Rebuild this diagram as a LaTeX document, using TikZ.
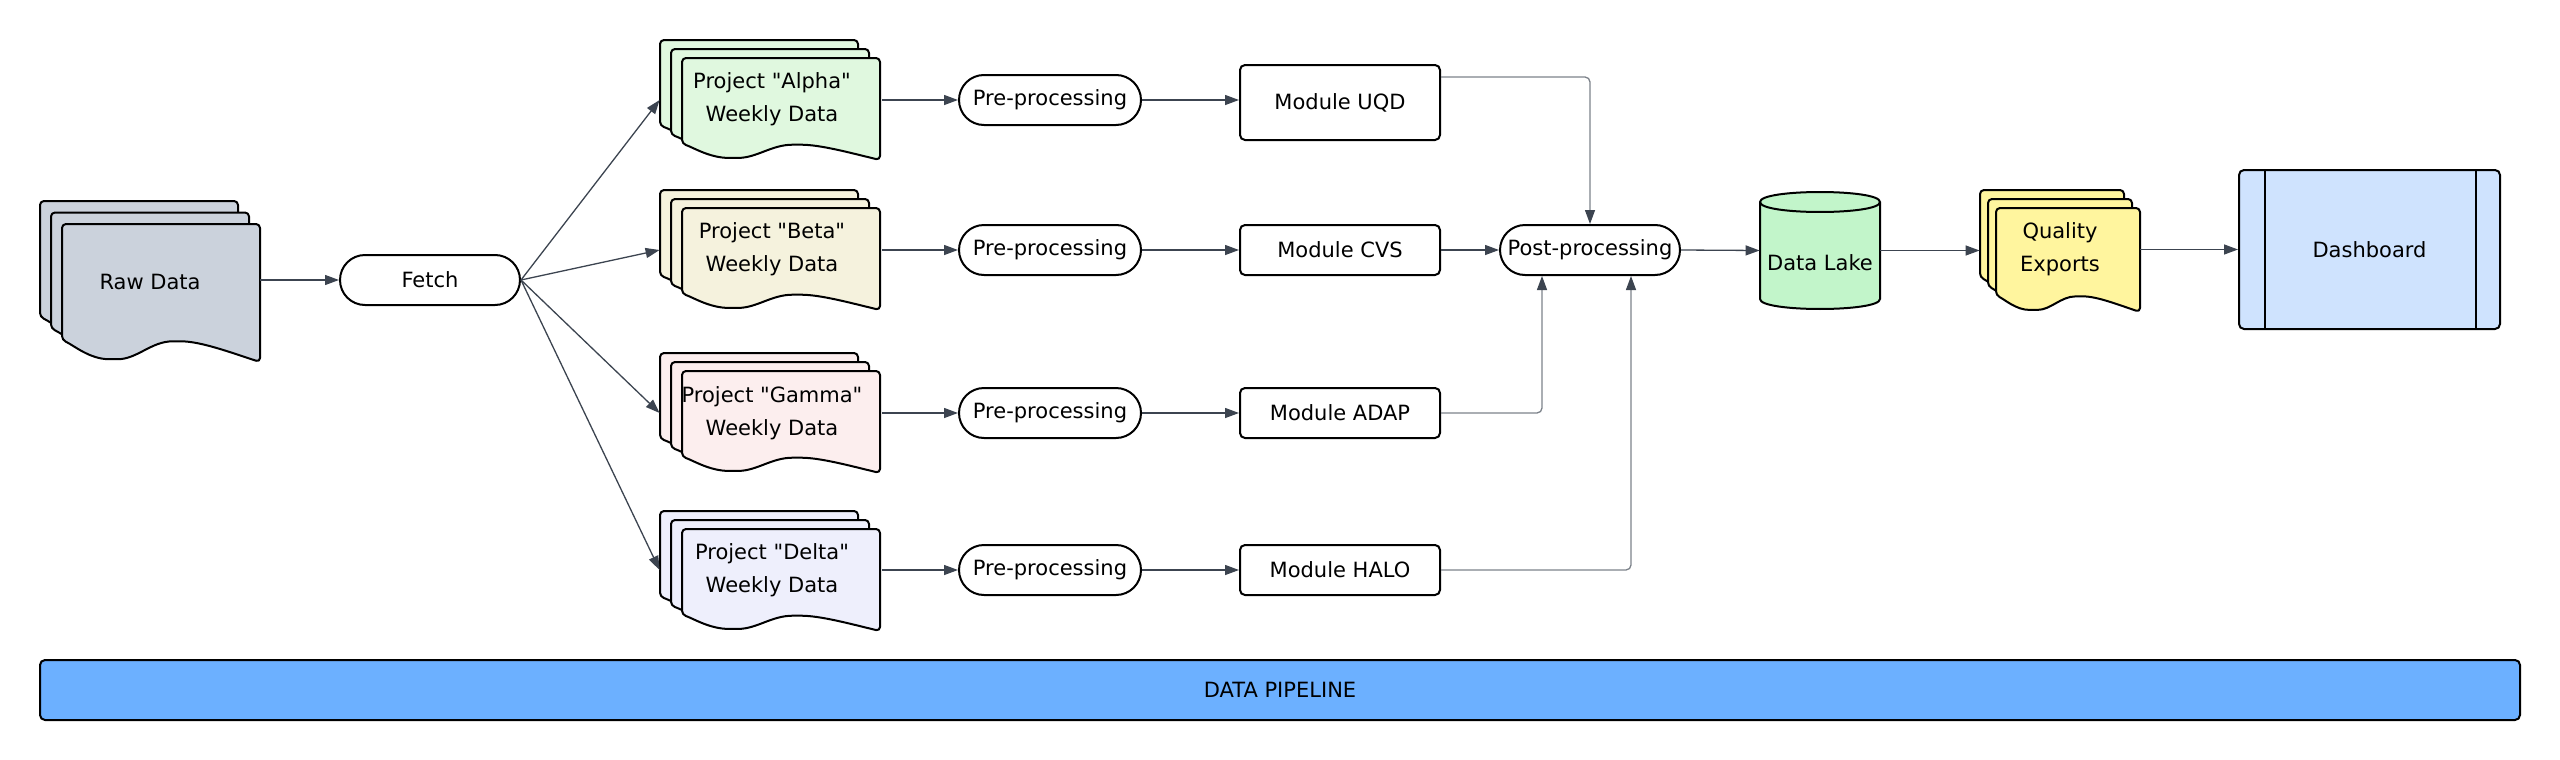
\documentclass[tikz,border=0pt]{standalone}
\usepackage{fontspec}
\setmainfont{DejaVu Sans}
\usetikzlibrary{arrows.meta,calc}
\definecolor{rawc}{HTML}{CBD2DC}
\definecolor{alphac}{HTML}{E0F8DF}
\definecolor{betac}{HTML}{F5F2DD}
\definecolor{gammac}{HTML}{FCEEEE}
\definecolor{deltac}{HTML}{EEEFFC}
\definecolor{qec}{HTML}{FFF59E}
\definecolor{lakec}{HTML}{C2F5CA}
\definecolor{dashc}{HTML}{CFE3FE}
\definecolor{barc}{HTML}{6CB0FF}
\definecolor{arrc}{HTML}{3C4450}
\definecolor{greyc}{HTML}{7C828A}
\newcommand\qmk{\textquotedbl}
% page of a document stack: x y w h fill
\newcommand\docpage[5]{%
  \path[draw=black,line width=1pt,fill=#5,rounded corners=2pt,line join=round]
    ({#1+#3},{#2+#4})
    .. controls ({#1+0.85*#3},{#2+0.93*#4}) and ({#1+0.7*#3},{#2+0.85*#4}) .. ({#1+0.58*#3},{#2+0.85*#4})
    .. controls ({#1+0.45*#3},{#2+0.85*#4}) and ({#1+0.38*#3},{#2+0.98*#4}) .. ({#1+0.26*#3},{#2+0.98*#4})
    .. controls ({#1+0.14*#3},{#2+0.98*#4}) and ({#1+0.06*#3},{#2+0.88*#4}) .. ({#1},{#2+0.84*#4})
    -- ({#1},{#2}) -- ({#1+#3},{#2}) -- cycle;}
% stack of three pages: X0 Y0 w h dx dy fill
\newcommand\docstack[7]{%
  \docpage{#1}{#2}{#3}{#4}{#7}%
  \docpage{#1+#5}{#2+#6}{#3}{#4}{#7}%
  \docpage{#1+2*#5}{#2+2*#6}{#3}{#4}{#7}}
\begin{document}
\begin{tikzpicture}[x=0.5pt,y=-0.5pt,
  every node/.style={font=\fontsize{10.5}{16.5}\selectfont, text=black},
  box/.style={draw=black, line width=1pt, fill=white, rounded corners=2.5pt,
    minimum width=100pt, minimum height=25pt, inner sep=0pt},
  pill/.style={draw=black, line width=1pt, fill=white, rounded corners=12.5pt,
    minimum width=91pt, minimum height=25pt, inner sep=0pt},
  stk/.style={minimum width=110pt, minimum height=60pt, inner sep=0pt, align=center},
  arr/.style={draw=arrc, line width=0.65pt, -{Triangle[length=7pt,width=5pt]}},
  garr/.style={draw=greyc, line width=0.65pt, rounded corners=2.5pt,
    -{Triangle[length=7pt,width=5pt,fill=arrc,color=arrc]}}]
\useasboundingbox (0,0) rectangle (2560,760);

% document stacks
\docstack{40}{201}{198}{138}{11}{11.5}{rawc}
\docstack{660}{40}{198}{102}{11}{9}{alphac}
\docstack{660}{190}{198}{102}{11}{9}{betac}
\docstack{660}{353}{198}{102}{11}{9}{gammac}
\docstack{660}{511}{198}{102}{11}{9}{deltac}
\docstack{1980}{190}{144}{104}{8}{9}{qec}

\node[stk, minimum height=80.5pt] (raw) at (150,281.5) {Raw Data};
\node[stk] (alpha) at (772,99) {Project \qmk Alpha\qmk\\Weekly Data};
\node[stk] (beta) at (772,249) {Project \qmk Beta\qmk\\Weekly Data};
\node[stk] (gamma) at (772,413) {Project \qmk Gamma\qmk\\Weekly Data};
\node[stk] (delta) at (772,570) {Project \qmk Delta\qmk\\Weekly Data};
\node[stk, minimum width=80pt, minimum height=61pt] (qe) at (2060,249) {Quality\\Exports};

% data lake cylinder
\path[draw=black, line width=1pt, fill=lakec]
  (1760,202) -- (1760,299) .. controls (1760,312.33) and (1880,312.33) .. (1880,299)
  -- (1880,202) .. controls (1880,188.67) and (1760,188.67) .. (1760,202) -- cycle;
\draw[line width=1pt] (1760,202) .. controls (1760,215.33) and (1880,215.33) .. (1880,202);
\node[minimum width=60pt, minimum height=58.5pt, inner sep=0pt,
  label={[yshift=-6.25pt]center:Data Lake}] (lake) at (1820,250.5) {};

% process nodes
\node[pill, minimum width=90pt] (fetch) at (430,280) {Fetch};
\node[pill] (pre1) at (1050,100) {Pre-processing};
\node[pill] (pre2) at (1050,250) {Pre-processing};
\node[pill] (pre3) at (1050,413) {Pre-processing};
\node[pill] (pre4) at (1050,570) {Pre-processing};
\node[box, minimum height=37.5pt] (uqd) at (1340,102.5) {Module UQD};
\node[box] (cvs) at (1340,250) {Module CVS};
\node[box] (adap) at (1340,413) {Module ADAP};
\node[box] (halo) at (1340,570) {Module HALO};
\node[pill, minimum width=90pt] (post) at (1590,250) {Post-processing};

% dashboard
\node[draw=black, line width=1pt, fill=dashc, rounded corners=2.5pt,
  minimum width=130.5pt, minimum height=79.5pt, inner sep=0pt] (dash) at (2369.5,249.5) {Dashboard};
\draw[line width=1pt] ([xshift=13.5pt]dash.north west) -- ([xshift=13.5pt]dash.south west);
\draw[line width=1pt] ([xshift=-12.5pt]dash.north east) -- ([xshift=-12.5pt]dash.south east);

% pipeline bar
\node[draw=black, line width=1pt, fill=barc, rounded corners=2.5pt,
  minimum width=1240pt, minimum height=30pt, inner sep=0pt] (pipe) at (1280,690) {DATA PIPELINE};

% connectors
\draw[arr] (raw.east |- fetch.west) -- (fetch.west);
\draw[arr] (fetch.east) -- ([xshift=-1pt]alpha.west |- pre1.west);
\draw[arr] (fetch.east) -- ([xshift=-1pt]beta.west |- pre2.west);
\draw[arr] (fetch.east) -- ([xshift=-1pt]gamma.west |- pre3.west);
\draw[arr] (fetch.east) -- ([xshift=-1pt]delta.west |- pre4.west);
\draw[arr] (alpha.east |- pre1.west) -- (pre1.west);
\draw[arr] (beta.east |- pre2.west) -- (pre2.west);
\draw[arr] (gamma.east |- pre3.west) -- (pre3.west);
\draw[arr] (delta.east |- pre4.west) -- (pre4.west);
\draw[arr] (pre1.east) -- (uqd.west |- pre1.east);
\draw[arr] (pre2.east) -- (cvs.west);
\draw[arr] (pre3.east) -- (adap.west);
\draw[arr] (pre4.east) -- (halo.west);
\draw[garr] ([yshift=12.75pt]uqd.east) -| (post.north);
\draw[arr] (cvs.east) -- (post.west);
\draw[garr] (adap.east) -| ([xshift=-24pt]post.south);
\draw[garr] (halo.east) -| ([xshift=20.5pt]post.south);
\draw[arr] (post.east) -- (lake.west);
\draw[arr] (lake.east) -- (qe.west |- lake.east);
\draw[arr] (qe.east |- dash.west) -- (dash.west);
\end{tikzpicture}
\end{document}
